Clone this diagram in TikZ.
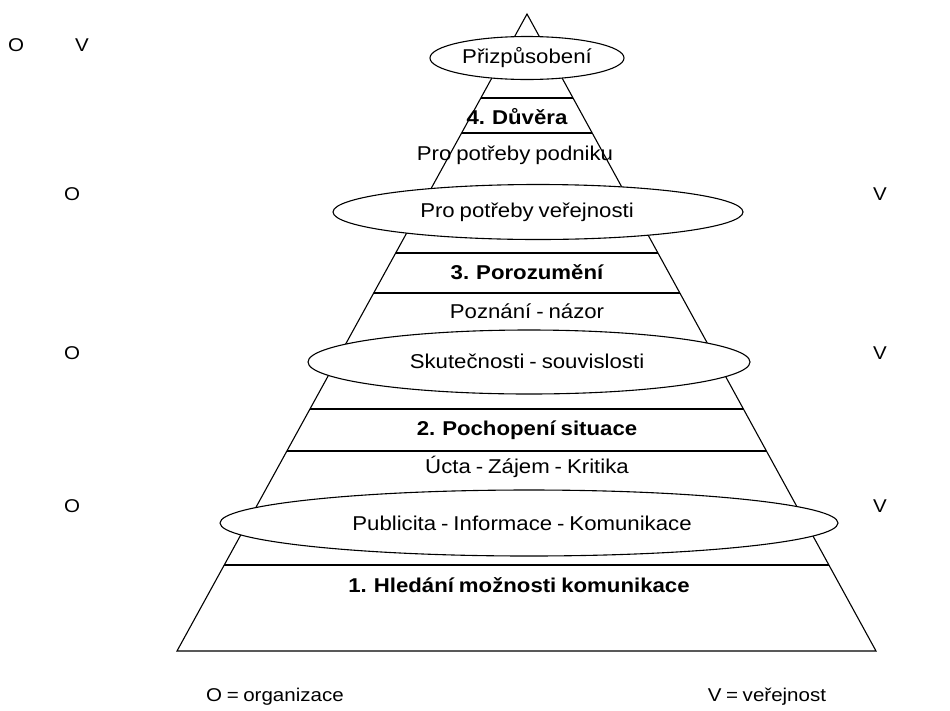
\documentclass[tikz,border=0pt]{standalone}
\usepackage{fontspec}
\setmainfont{Liberation Sans}[FakeStretch=1.11,WordSpace=0.8]
\usetikzlibrary{calc,shapes.geometric}
\tikzset{
  lbl/.style={inner sep=0pt,font=\fontsize{20}{22}\selectfont},
  bold/.style={lbl,font=\fontsize{20}{22}\selectfont\bfseries},
  side/.style={inner sep=0pt,font=\fontsize{18.5}{20}\selectfont},
  oval/.style={draw,fill=white,ellipse,inner sep=0pt,line width=1.1pt},
  edge/.style={line width=1.1pt},
}
\newcommand{\pyrline}[2]{\draw[edge] ($(A)!{(#1-14)/637}!(BL)$) coordinate (#2l) -- ($(A)!{(#1-14)/637}!(BR)$) coordinate (#2r);}
\begin{document}
\begin{tikzpicture}[x=1pt,y=-1pt]
\useasboundingbox (0,0) rectangle (950,710);
\coordinate (A) at (527,14);
\coordinate (BL) at (177,651);
\coordinate (BR) at (876,651);
\draw[edge,line join=miter] (A) -- (BL) -- (BR) -- cycle;
\pyrline{98}{h1}
\pyrline{133}{h2}
\pyrline{253}{h3}
\pyrline{293}{h4}
\pyrline{409}{h5}
\pyrline{451}{h6}
\pyrline{565}{h7}
\node[oval,minimum width=194,minimum height=43] (e1) at (527,58) {};
\node[lbl] (t1) at (527,58) {Přizpůsobení};
\node[bold] (t2) at (517,117) {4. Důvěra};
\node[lbl] (t3) at (515,155) {Pro potřeby podniku};
\node[oval,minimum width=410,minimum height=55] (e2) at (538,212) {};
\node[lbl] (t4) at (527,212) {Pro potřeby veřejnosti};
\node[bold] (t5) at (527,272) {3. Porozumění};
\node[lbl] (t6) at (527,311) {Poznání - názor};
\node[oval,minimum width=442,minimum height=64] (e3) at (529,362) {};
\node[lbl] (t7) at (527,361) {Skutečnosti - souvislosti};
\node[bold] (t8) at (527,430) {2. Pochopení situace};
\node[lbl] (t9) at (527,467) {Úcta - Zájem - Kritika};
\node[oval,minimum width=618,minimum height=66] (e4) at (529,523) {};
\node[lbl] (t10) at (522,523) {Publicita - Informace - Komunikace};
\node[bold] (t11) at (519,585) {1. Hledání možnosti komunikace};
\node[side] (o1) at (16,45) {O};
\node[side] (v1) at (82,45) {V};
\node[side] (o2) at (72,194) {O};
\node[side] (v2) at (880,194) {V};
\node[side] (o3) at (72,353) {O};
\node[side] (v3) at (880,353) {V};
\node[side] (o4) at (72,506) {O};
\node[side] (v4) at (880,506) {V};
\node[side] (lo) at (275,697) {O = organizace};
\node[side] (lv) at (767,697) {V = veřejnost};
\end{tikzpicture}
\end{document}
